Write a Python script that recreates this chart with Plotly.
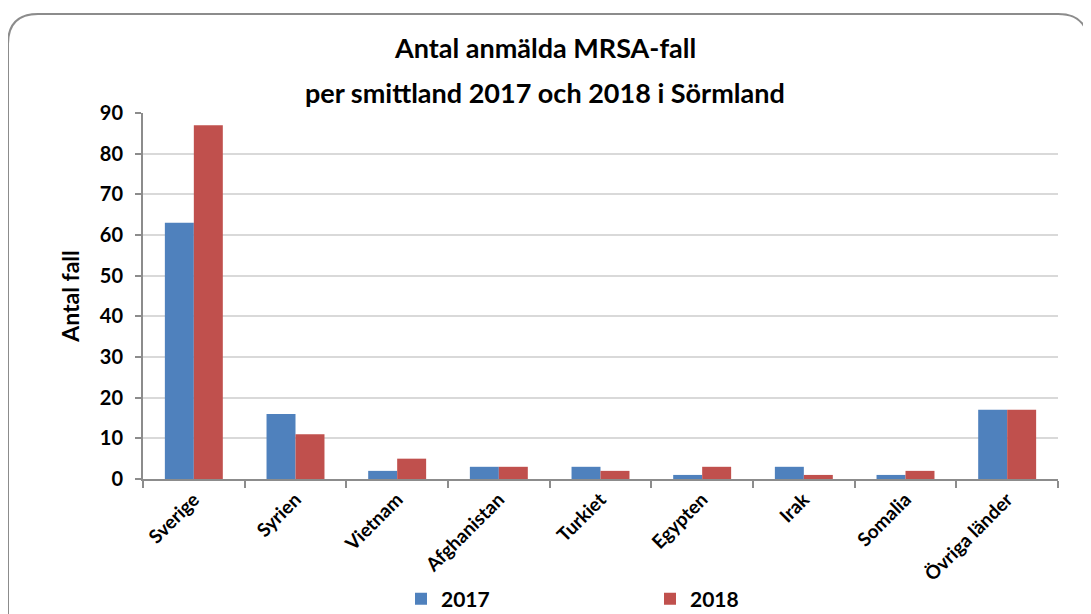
import plotly.graph_objects as go

categories = ["Sverige", "Syrien", "Vietnam", "Afghanistan", "Turkiet", "Egypten", "Irak", "Somalia", "Övriga länder"]
values_2017 = [63, 16, 2, 3, 3, 1, 3, 1, 17]
values_2018 = [87, 11, 5, 3, 2, 3, 1, 2, 17]
series_names = ["2017", "2018"]
y_ticks = [0, 10, 20, 30, 40, 50, 60, 70, 80, 90]
title_lines = ["Antal anmälda MRSA-fall", "per smittland 2017 och 2018 i Sörmland"]

W, H = 1091, 614
OFF = 8  # page body margin offset
L, R, T, B = 143 - OFF, 1091 - 1058 + OFF, 113 - OFF, 614 - 479 + OFF
pw, ph = W - L - R, H - T - B

def px(x):
    return (x - OFF - L) / pw

def py(y):
    return (H - B - (y - OFF)) / ph

FONT = "Lato"

fig = go.Figure()
fig.add_bar(x=categories, y=values_2017, name=f"<b>{series_names[0]}</b>",
            marker=dict(color="#4F81BD", line=dict(width=0)))
fig.add_bar(x=categories, y=values_2018, name=f"<b>{series_names[1]}</b>",
            marker=dict(color="#C0504D", line=dict(width=0)))

# rounded border
r = 30
path = (f"M {px(8)} {py(660)} L {px(8)} {py(14 + r)} "
        f"Q {px(8)} {py(14)} {px(8 + r)} {py(14)} "
        f"L {px(1088 - r)} {py(14)} "
        f"Q {px(1088)} {py(14)} {px(1088)} {py(14 + r)} "
        f"L {px(1088)} {py(660)}")

annotations = []
for line, yc in zip(title_lines, [47, 92]):
    annotations.append(dict(text=f"<b>{line}</b>", x=px(545), y=py(yc), xref="paper", yref="paper",
                            xanchor="center", yanchor="middle", showarrow=False,
                            font=dict(size=27, family=FONT, color="black")))

fig.update_layout(
    width=W, height=H,
    margin=dict(l=L, r=R, t=T, b=B, autoexpand=False),
    paper_bgcolor="white", plot_bgcolor="white",
    font=dict(family=FONT, color="black"),
    barmode="group", bargap=0.43, bargroupgap=0,
    showlegend=True,
    legend=dict(orientation="h", x=px(401), y=py(599), xanchor="left", yanchor="middle",
                entrywidth=204, entrywidthmode="pixels",
                font=dict(size=21, family=FONT), itemwidth=30, traceorder="normal"),
    shapes=[dict(type="path", path=path, xref="paper", yref="paper",
                 line=dict(color="#8C8C8C", width=2), layer="above")],
    annotations=annotations,
)
fig.update_xaxes(
    type="category", tickangle=-45, tickson="boundaries",
    ticks="outside", ticklen=7, tickcolor="#8C8C8C", tickwidth=2,
    showline=True, linecolor="#8C8C8C", linewidth=2,
    tickfont=dict(size=19, family=FONT), showgrid=False,
    tickprefix="<b>", ticksuffix="</b>",
)
fig.update_yaxes(
    range=[0, 90], tickvals=y_ticks, ticktext=[f"<b>{v}</b>" for v in y_ticks],
    ticks="outside", ticklen=6, tickcolor="#8C8C8C", tickwidth=2,
    showline=True, linecolor="#8C8C8C", linewidth=2,
    showgrid=True, gridcolor="#D9D9D9", gridwidth=2, zeroline=False,
    tickfont=dict(size=20, family=FONT), ticklabelstandoff=8,
    title=dict(text="<b>Antal fall</b>", font=dict(size=23, family=FONT), standoff=14),
)

fig.write_html("out.html")
